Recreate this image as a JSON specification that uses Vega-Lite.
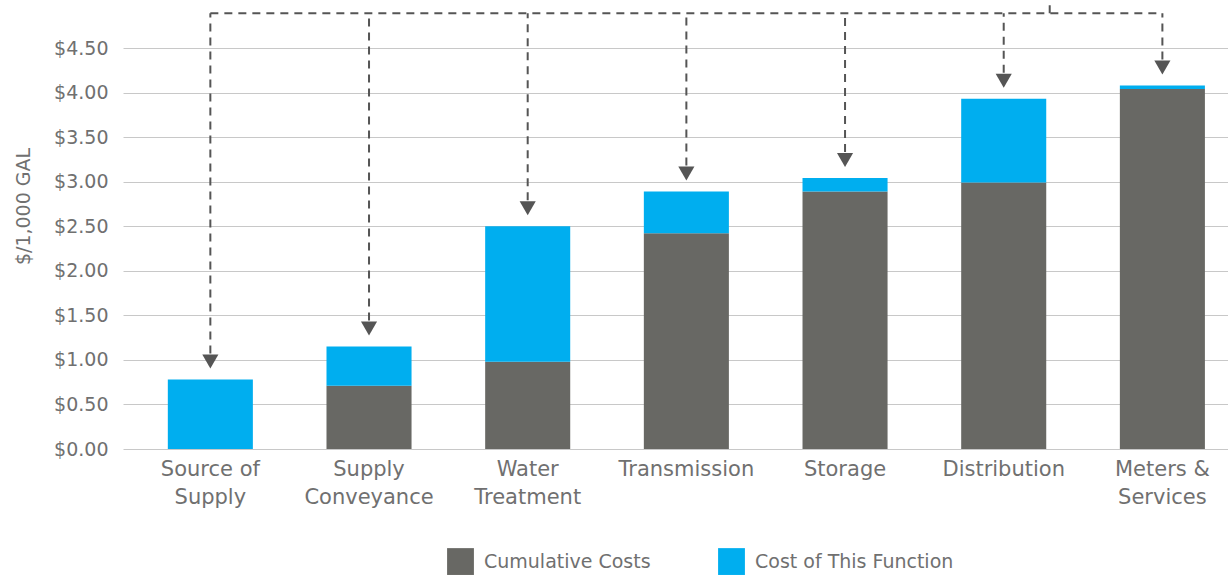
{
  "$schema": "https://vega.github.io/schema/vega-lite/v6.json",
  "width": 1105,
  "height": 401,
  "autosize": {"type": "none"},
  "padding": {"left": 123, "top": 48, "right": 0, "bottom": 126},
  "background": "white",
  "config": {
    "view": {"stroke": null},
    "font": "DejaVu Sans",
    "axis": {"labelFont": "DejaVu Sans", "titleFont": "DejaVu Sans"},
    "legend": {"labelFont": "DejaVu Sans"}
  },
  "data": {
    "values": [
      {"function": "Source of Supply", "series": "Cumulative Costs", "value": 0},
      {"function": "Source of Supply", "series": "Cost of This Function", "value": 0.78},
      {"function": "Supply Conveyance", "series": "Cumulative Costs", "value": 0.71},
      {"function": "Supply Conveyance", "series": "Cost of This Function", "value": 0.44},
      {"function": "Water Treatment", "series": "Cumulative Costs", "value": 0.98},
      {"function": "Water Treatment", "series": "Cost of This Function", "value": 1.52},
      {"function": "Transmission", "series": "Cumulative Costs", "value": 2.42},
      {"function": "Transmission", "series": "Cost of This Function", "value": 0.47},
      {"function": "Storage", "series": "Cumulative Costs", "value": 2.89},
      {"function": "Storage", "series": "Cost of This Function", "value": 0.15},
      {"function": "Distribution", "series": "Cumulative Costs", "value": 2.99},
      {"function": "Distribution", "series": "Cost of This Function", "value": 0.94},
      {"function": "Meters & Services", "series": "Cumulative Costs", "value": 4.04},
      {"function": "Meters & Services", "series": "Cost of This Function", "value": 0.04}
    ]
  },
  "layer": [
    {
      "mark": {"type": "bar"},
      "encoding": {
        "x": {
          "field": "function",
          "type": "nominal",
          "sort": null,
          "scale": {"paddingInner": 0.464, "paddingOuter": 0.214, "align": 0.66},
          "axis": {
            "title": null,
            "domain": false,
            "ticks": false,
            "labelAngle": 0,
            "labelFontSize": 21,
            "labelColor": "#707070",
            "labelPadding": 9,
            "labelLineHeight": 28,
            "labelBaseline": "top",
            "labelLimit": 300,
            "labelExpr": "datum.label == 'Source of Supply' ? ['Source of', 'Supply'] : datum.label == 'Supply Conveyance' ? ['Supply', 'Conveyance'] : datum.label == 'Water Treatment' ? ['Water', 'Treatment'] : datum.label == 'Meters & Services' ? ['Meters &', 'Services'] : datum.label"
          }
        },
        "y": {
          "field": "value",
          "type": "quantitative",
          "stack": "zero",
          "scale": {"domain": [0, 4.5], "nice": false},
          "axis": {
            "title": "$/1,000 GAL",
            "titleFontSize": 19,
            "titleFontWeight": "normal",
            "titleColor": "#707070",
            "titleX": -90,
            "titleY": 158,
            "format": "$.2f",
            "values": [0, 0.5, 1, 1.5, 2, 2.5, 3, 3.5, 4, 4.5],
            "domain": false,
            "ticks": false,
            "labelFontSize": 19,
            "labelColor": "#707070",
            "labelPadding": 15,
            "gridColor": "#c8c8c8",
            "gridWidth": 1
          }
        },
        "color": {
          "field": "series",
          "type": "nominal",
          "scale": {
            "domain": ["Cumulative Costs", "Cost of This Function"],
            "range": ["#686864", "#00aeef"]
          },
          "legend": {
            "title": null,
            "orient": "none",
            "direction": "horizontal",
            "legendX": 324,
            "legendY": 500,
            "symbolType": "square",
            "symbolSize": 720,
            "symbolStrokeWidth": 0,
            "labelFontSize": 19,
            "labelColor": "#707070",
            "labelOffset": 10,
            "labelLimit": 400,
            "columnPadding": 67
          }
        },
        "order": {"field": "series", "type": "nominal", "sort": "descending"}
      }
    },
    {
      "mark": {"type": "rule", "strokeDash": [8, 6], "strokeWidth": 2, "color": "#555555", "yOffset": -26, "clip": false},
      "encoding": {
        "x": {"field": "function", "type": "nominal", "sort": null},
        "y": {"aggregate": "sum", "field": "value", "type": "quantitative"},
        "y2": {"datum": 4.89}
      }
    },
    {
      "mark": {"type": "point", "shape": "triangle-down", "filled": true, "size": 260, "color": "#555555", "opacity": 1, "yOffset": -18, "clip": false},
      "encoding": {
        "x": {"field": "function", "type": "nominal", "sort": null},
        "y": {"aggregate": "sum", "field": "value", "type": "quantitative"}
      }
    },
    {
      "transform": [{"filter": "datum.series == 'Cumulative Costs'"}],
      "mark": {"type": "line", "strokeDash": [8, 6], "strokeWidth": 2, "color": "#555555", "clip": false},
      "encoding": {
        "x": {"field": "function", "type": "nominal", "sort": null},
        "y": {"datum": 4.89}
      }
    },
    {
      "transform": [{"filter": "datum.function == 'Distribution' && datum.series == 'Cumulative Costs'"}],
      "mark": {"type": "rule", "strokeDash": [8, 6], "strokeWidth": 2, "color": "#555555", "xOffset": 46, "clip": false},
      "encoding": {
        "x": {"field": "function", "type": "nominal", "sort": null},
        "y": {"datum": 4.89},
        "y2": {"datum": 5.1}
      }
    }
  ]
}
